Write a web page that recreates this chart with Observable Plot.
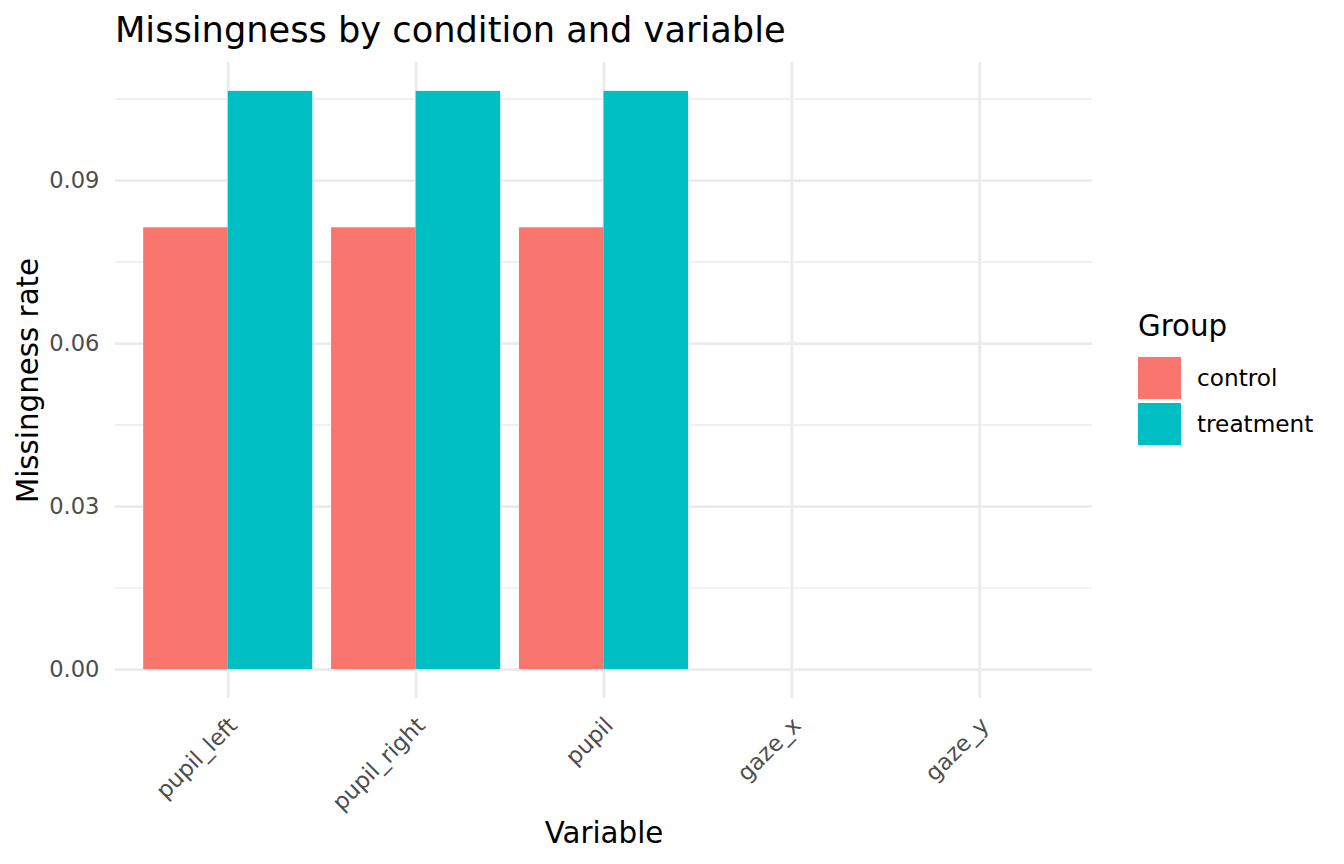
<!DOCTYPE html>
<html>
<head>
<meta charset="utf-8">
<script src="https://cdn.jsdelivr.net/npm/d3@7"></script>
<script src="https://cdn.jsdelivr.net/npm/@observablehq/plot@0.6"></script>
<style>
  html, body { margin: 0; padding: 0; background: #fff; }
  #wrap { position: relative; width: 1344px; height: 864px; font-family: "DejaVu Sans", sans-serif; overflow: hidden; }
  #wrap svg { position: absolute; left: 0; top: 0; background: transparent; }
  .title { position: absolute; left: 115px; top: 12px; font-size: 35.2px; color: #000; line-height: 1; white-space: nowrap; }
  .legend-title { position: absolute; left: 1138px; top: 312px; font-size: 29.3px; color: #000; line-height: 1; white-space: nowrap; }
  .legend-key { position: absolute; left: 1138px; width: 43px; height: 42px; }
  .legend-label { position: absolute; left: 1197px; height: 42px; line-height: 42px; font-size: 23.2px; color: #000; white-space: nowrap; }
</style>
</head>
<body>
<div id="wrap"></div>
<script>
// ---- data ----
const variables = ["pupil_left", "pupil_right", "pupil", "gaze_x", "gaze_y"];
const groups = ["control", "treatment"];
const controlRates = [0.0813, 0.0813, 0.0813, 0, 0];
const treatmentRates = [0.1064, 0.1064, 0.1064, 0, 0];
const yTicks = [0, 0.03, 0.06, 0.09];
const yTickLabels = ["0.00", "0.03", "0.06", "0.09"];
const yMinorTicks = [0.015, 0.045, 0.075, 0.105];
const groupColors = ["#F8766D", "#00BFC4"];
const titleText = "Missingness by condition and variable";
const xTitle = "Variable";
const yTitle = "Missingness rate";
const legendTitle = "Group";

const rows = [];
variables.forEach((v, i) => {
  rows.push({variable: v, group: "control", rate: controlRates[i]});
  rows.push({variable: v, group: "treatment", rate: treatmentRates[i]});
});

const maxVal = d3.max(rows, d => d.rate);
const minVal = Math.min(0, d3.min(rows, d => d.rate));
const ext = (maxVal - minVal) * 0.05;
const yDomain = [minVal - ext, maxVal + ext];

const W = 1344, H = 864;
const margins = {marginLeft: 115, marginRight: 252, marginTop: 62, marginBottom: 166};
const band = {paddingInner: 0.1, paddingOuter: 0.15, round: false};

const wrap = document.getElementById("wrap");

// Background: grid, axes, labels
const bg = Plot.plot({
  width: W, height: H, ...margins,
  style: {fontFamily: "DejaVu Sans, sans-serif", background: "transparent", overflow: "visible"},
  x: {type: "band", domain: variables, ...band, axis: null},
  y: {domain: yDomain, axis: null},
  marks: [
    Plot.ruleY(yMinorTicks, {y: d => d, stroke: "#EBEBEB", strokeWidth: 1.4}),
    Plot.ruleY(yTicks, {y: d => d, stroke: "#EBEBEB", strokeWidth: 2.8}),
    Plot.ruleX(variables, {x: d => d, stroke: "#EBEBEB", strokeWidth: 2.8}),
    Plot.text(yTicks, {y: d => d, text: (d, i) => yTickLabels[i], frameAnchor: "left", dx: -16,
      textAnchor: "end", lineAnchor: "middle", fill: "#4D4D4D", fontSize: 22.6}),
    Plot.text(variables, {x: d => d, text: d => d, frameAnchor: "bottom", dy: 17, dx: -1,
      rotate: -45, textAnchor: "end", lineAnchor: "top", fill: "#4D4D4D", fontSize: 22.6}),
    Plot.text([xTitle], {text: d => d, frameAnchor: "bottom", dy: 144, lineAnchor: "bottom",
      fill: "#000", fontSize: 29.3}),
    Plot.text([yTitle], {text: d => d, frameAnchor: "left", dx: -78, rotate: -90,
      lineAnchor: "bottom", textAnchor: "middle", fill: "#000", fontSize: 29.3})
  ]
});
wrap.appendChild(bg);

// Foreground: dodged bars via facets
const fg = Plot.plot({
  width: W, height: H, ...margins,
  style: {fontFamily: "DejaVu Sans, sans-serif", background: "transparent"},
  fx: {domain: variables, ...band, axis: null, label: null},
  x: {domain: groups, padding: 0, round: false, axis: null},
  y: {domain: yDomain, axis: null},
  color: {domain: groups, range: groupColors},
  marks: [
    Plot.barY(rows, {fx: "variable", x: "group", y: "rate", fill: "group"})
  ]
});
wrap.appendChild(fg);

// Title
const t = document.createElement("div");
t.className = "title";
t.textContent = titleText;
wrap.appendChild(t);

// Legend
const lt = document.createElement("div");
lt.className = "legend-title";
lt.textContent = legendTitle;
wrap.appendChild(lt);
const keyTops = [357, 403];
groups.forEach((g, i) => {
  const key = document.createElement("div");
  key.className = "legend-key";
  key.style.top = keyTops[i] + "px";
  key.style.background = groupColors[i];
  wrap.appendChild(key);
  const lab = document.createElement("div");
  lab.className = "legend-label";
  lab.style.top = keyTops[i] + "px";
  lab.textContent = g;
  wrap.appendChild(lab);
});
</script>
</body>
</html>
